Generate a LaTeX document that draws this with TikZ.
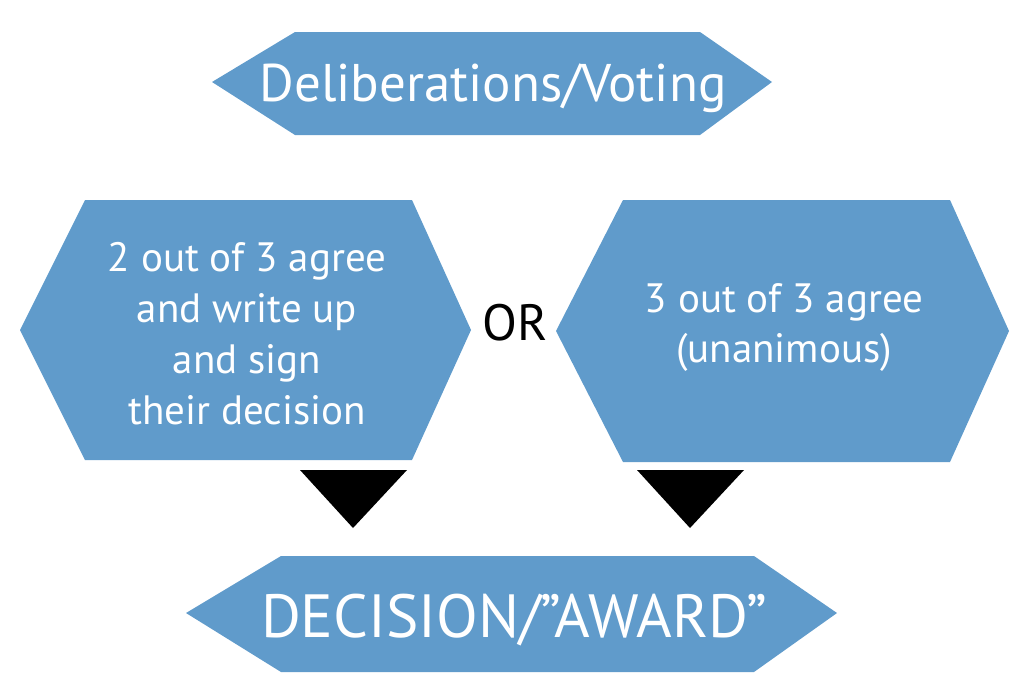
\documentclass[tikz,border=0pt]{standalone}
\usepackage{fontspec}
\setmainfont{PT Sans}
\definecolor{hexblue}{RGB}{96,155,203}
\tikzset{
  hexfill/.style={fill=hexblue, draw=none},
  lbl/.style={text=white, inner sep=0pt, align=center},
  tri/.style={fill=black, draw=none}
}
\begin{document}
\begin{tikzpicture}[x=1pt,y=-1pt]
\useasboundingbox (0,0) rectangle (1024,696);
% top
\fill[hexfill] (212,82) -- (295,32) -- (700,32) -- (772,82) -- (700,135) -- (295,135) -- cycle;
\node[lbl, anchor=base, font=\fontsize{53}{56}\selectfont] (delib) at (493,101) {Deliberations/Voting};
% left
\fill[hexfill] (20,330) -- (85,200) -- (412,200) -- (471,330) -- (412,460) -- (85,460) -- cycle;
\node[lbl, font=\fontsize{41}{51}\selectfont] (two) at (247,334) {2 out of 3 agree\\and write up\\and sign\\their decision};
% right
\fill[hexfill] (556,331) -- (623,200) -- (950,200) -- (1009,331) -- (950,462) -- (623,462) -- cycle;
\node[lbl, font=\fontsize{41}{50}\selectfont] (three) at (784,328) {3 out of 3 agree\\(unanimous)};
% OR
\node[inner sep=0pt, anchor=base, font=\fontsize{51}{51}\selectfont] (or) at (515,340) {OR};
% triangles
\fill[tri] (300,470) -- (407,470) -- (353,528) -- cycle;
\fill[tri] (637,470) -- (744,470) -- (690,528) -- cycle;
% bottom
\fill[hexfill] (186,613) -- (281,556) -- (754,556) -- (837,613) -- (754,672) -- (281,672) -- cycle;
\node[lbl, anchor=base, font=\fontsize{61}{64}\selectfont] (award) at (514,637) {DECISION/''AWARD''};
\end{tikzpicture}
\end{document}
